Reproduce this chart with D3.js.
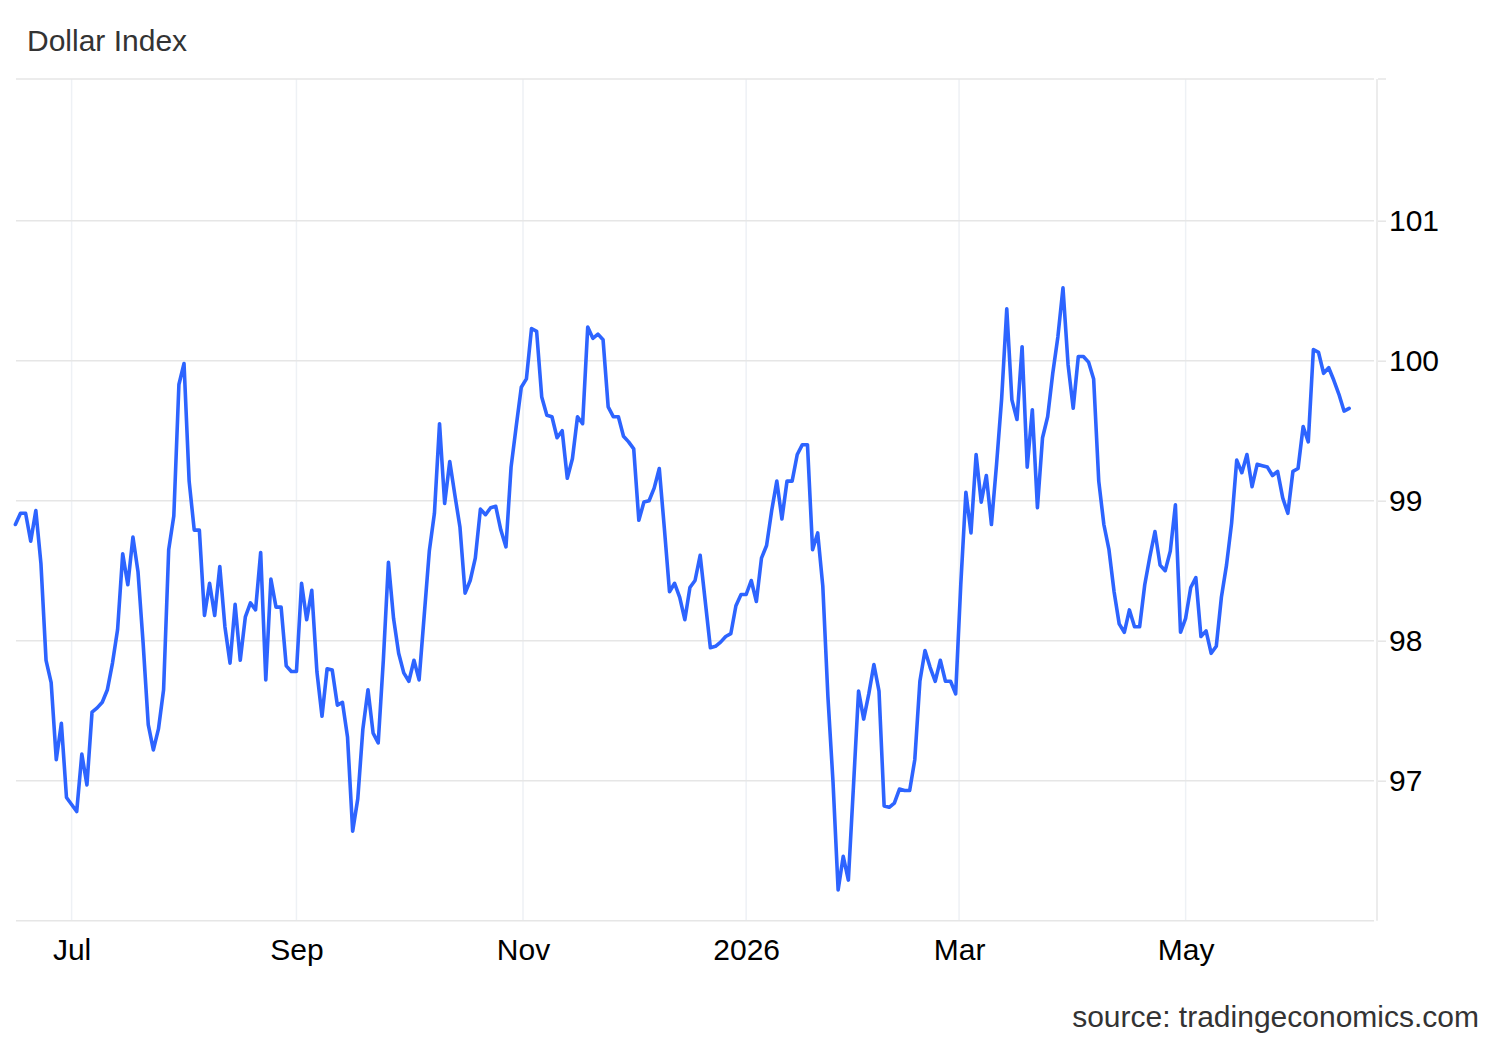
<!DOCTYPE html>
<html>
<head>
<meta charset="utf-8">
<title>Dollar Index</title>
<script src="https://cdn.jsdelivr.net/npm/d3@7"></script>
<style>
    body { margin: 0; background: #fff; }
    svg { display: block; font-family: "Liberation Sans", Arial, sans-serif; }
</style>
</head>
<body>
<svg id="chart" width="1500" height="1040"></svg>
<script>
// first and last trading day of the series (weekdays only, ordinal axis)
var firstDay = '2025-06-16',
    lastDay = '2026-06-16';

// daily close, one value per weekday from firstDay to lastDay
var dollarIndex = [
    98.83, 98.91, 98.91, 98.71, 98.93, 98.55, 97.86, 97.70, 97.15, 97.41,
    96.88, 96.83, 96.78, 97.19, 96.97, 97.49, 97.52, 97.56, 97.65, 97.84,
    98.08, 98.62, 98.40, 98.74, 98.49, 97.98, 97.40, 97.22, 97.37, 97.65,
    98.65, 98.89, 99.83, 99.98, 99.14, 98.79, 98.79, 98.18, 98.41, 98.18,
    98.53, 98.10, 97.84, 98.26, 97.86, 98.17, 98.27, 98.22, 98.63, 97.72,
    98.44, 98.24, 98.24, 97.82, 97.78, 97.78, 98.41, 98.15, 98.36, 97.78,
    97.46, 97.80, 97.79, 97.54, 97.56, 97.31, 96.64, 96.87, 97.37, 97.65,
    97.34, 97.27, 97.86, 98.56, 98.16, 97.91, 97.77, 97.71, 97.86, 97.72,
    98.18, 98.64, 98.91, 99.55, 98.98, 99.28, 99.04, 98.81, 98.34, 98.43,
    98.59, 98.94, 98.90, 98.95, 98.96, 98.79, 98.67, 99.24, 99.53, 99.81,
    99.87, 100.23, 100.21, 99.74, 99.61, 99.60, 99.45, 99.50, 99.16, 99.30,
    99.60, 99.55, 100.24, 100.16, 100.19, 100.15, 99.67, 99.60, 99.60, 99.46,
    99.42, 99.37, 98.86, 98.99, 99.00, 99.09, 99.23, 98.80, 98.35, 98.41,
    98.31, 98.15, 98.38, 98.43, 98.61, 98.28, 97.95, 97.96, 97.99, 98.03,
    98.05, 98.25, 98.33, 98.33, 98.43, 98.28, 98.59, 98.68, 98.93, 99.14,
    98.87, 99.14, 99.14, 99.33, 99.40, 99.40, 98.65, 98.77, 98.39, 97.60,
    96.99, 96.22, 96.46, 96.29, 96.96, 97.64, 97.44, 97.62, 97.83, 97.64,
    96.82, 96.81, 96.84, 96.94, 96.93, 96.93, 97.15, 97.71, 97.93, 97.81,
    97.71, 97.86, 97.71, 97.71, 97.62, 98.40, 99.06, 98.77, 99.33, 98.99,
    99.18, 98.83, 99.26, 99.73, 100.37, 99.72, 99.58, 100.10, 99.24, 99.65,
    98.95, 99.45, 99.60, 99.91, 100.17, 100.52, 99.97, 99.66, 100.03, 100.03,
    99.99, 99.87, 99.14, 98.83, 98.65, 98.35, 98.12, 98.06, 98.22, 98.10,
    98.10, 98.40, 98.60, 98.78, 98.54, 98.50, 98.64, 98.97, 98.06, 98.16,
    98.38, 98.45, 98.03, 98.07, 97.91, 97.96, 98.31, 98.54, 98.84, 99.29,
    99.20, 99.33, 99.10, 99.26, 99.25, 99.24, 99.18, 99.21, 99.02, 98.91,
    99.21, 99.23, 99.53, 99.42, 100.08, 100.06, 99.91, 99.95, 99.86, 99.76,
    99.64, 99.66
];

var tickDates = ['2025-07-01', '2025-09-01', '2025-11-01', '2026-01-01', '2026-03-01', '2026-05-01'],
    tickLabels = ['Jul', 'Sep', 'Nov', '2026', 'Mar', 'May'];

var yTicks = [97, 98, 99, 100, 101];

var parseDate = d3.timeParse('%Y-%m-%d'),
    fontSize = '30px';

// weekdays between first and last day
var days = d3.timeDay.range(parseDate(firstDay), d3.timeDay.offset(parseDate(lastDay), 1))
    .filter(function(d) { return d.getDay() % 6 !== 0; });

var data = dollarIndex.map(function(v, i) {
    return { date: days[i], value: v };
});

// position of any date on the ordinal (trading day) axis
var tradingIndex = function(date) {
    var i = d3.bisectLeft(days, date);
    if (i < days.length && +days[i] === +date) {
        return i;
    }
    var a = days[i - 1], b = days[i];
    return i - 1 + (date - a) / (b - a);
};

var plot = { left: 16, right: 1377, top: 79, bottom: 920.7 };

var x = d3.scaleLinear()
    .domain([0.12, 266.45])
    .range([plot.left, plot.right]);

var y = d3.scaleLinear()
    .domain([96, 101])
    .range([plot.bottom, plot.bottom - 5 * 140]);

var svg = d3.select('#chart');

svg.append('rect')
    .attr('width', 1500)
    .attr('height', 1040)
    .attr('fill', '#fff');

var tickPos = tickDates.map(function(s) { return tradingIndex(parseDate(s)); });

// vertical grid
svg.append('g')
    .selectAll('line')
    .data(tickPos)
    .enter().append('line')
    .attr('x1', function(d) { return x(d); })
    .attr('x2', function(d) { return x(d); })
    .attr('y1', plot.top)
    .attr('y2', plot.bottom)
    .attr('stroke', '#eef1f5')
    .attr('stroke-width', 1.5);

// horizontal grid, incl. top border and bottom line
svg.append('g')
    .selectAll('line')
    .data([plot.top].concat(yTicks.map(function(t) { return y(t); }), [plot.bottom]))
    .enter().append('line')
    .attr('x1', plot.left)
    .attr('x2', plot.right - 3)
    .attr('y1', function(d) { return d; })
    .attr('y2', function(d) { return d; })
    .attr('stroke', '#e6e6e6')
    .attr('stroke-width', 1.5);

// right axis line
svg.append('line')
    .attr('x1', plot.right)
    .attr('x2', plot.right)
    .attr('y1', plot.top)
    .attr('y2', plot.bottom)
    .attr('stroke', '#e6e6e6')
    .attr('stroke-width', 1.5);

var yAxis = svg.append('g')
    .attr('transform', 'translate(' + (plot.right + 1) + ',0)')
    .call(d3.axisRight(y)
        .tickValues(yTicks)
        .tickFormat(d3.format('d'))
        .tickSize(8)
        .tickSizeOuter(0)
        .tickPadding(3));
yAxis.select('.domain').remove();
yAxis.selectAll('.tick line').attr('stroke', '#e6e6e6').attr('stroke-width', 1.5);
yAxis.selectAll('.tick text')
    .attr('fill', '#000')
    .style('font-size', fontSize)
    .style('font-family', '"Liberation Sans", Arial, sans-serif');

// top-right tick stub
svg.append('line')
    .attr('x1', plot.right + 1)
    .attr('x2', plot.right + 9)
    .attr('y1', plot.top)
    .attr('y2', plot.top)
    .attr('stroke', '#e6e6e6')
    .attr('stroke-width', 1.5);

var xAxis = svg.append('g')
    .attr('transform', 'translate(0,' + plot.bottom + ')')
    .call(d3.axisBottom(x)
        .tickValues(tickPos)
        .tickFormat(function(d, i) { return tickLabels[i]; })
        .tickSize(0)
        .tickPadding(18));
xAxis.select('.domain').remove();
xAxis.selectAll('.tick text')
    .attr('fill', '#000')
    .style('font-size', fontSize)
    .style('font-family', '"Liberation Sans", Arial, sans-serif');

// the series
var line = d3.line()
    .x(function(d, i) { return x(i); })
    .y(function(d) { return y(d.value); });

svg.append('path')
    .datum(data)
    .attr('d', line)
    .attr('fill', 'none')
    .attr('stroke', '#2d64ff')
    .attr('stroke-width', 3.6)
    .attr('stroke-linejoin', 'round')
    .attr('stroke-linecap', 'round');

svg.append('text')
    .attr('x', 27)
    .attr('y', 50.5)
    .attr('fill', '#333')
    .style('font-size', fontSize)
    .text('Dollar Index');

svg.append('text')
    .attr('x', 1479)
    .attr('y', 1026.5)
    .attr('text-anchor', 'end')
    .attr('fill', '#333')
    .style('font-size', fontSize)
    .text('source: tradingeconomics.com');
</script>
</body>
</html>
